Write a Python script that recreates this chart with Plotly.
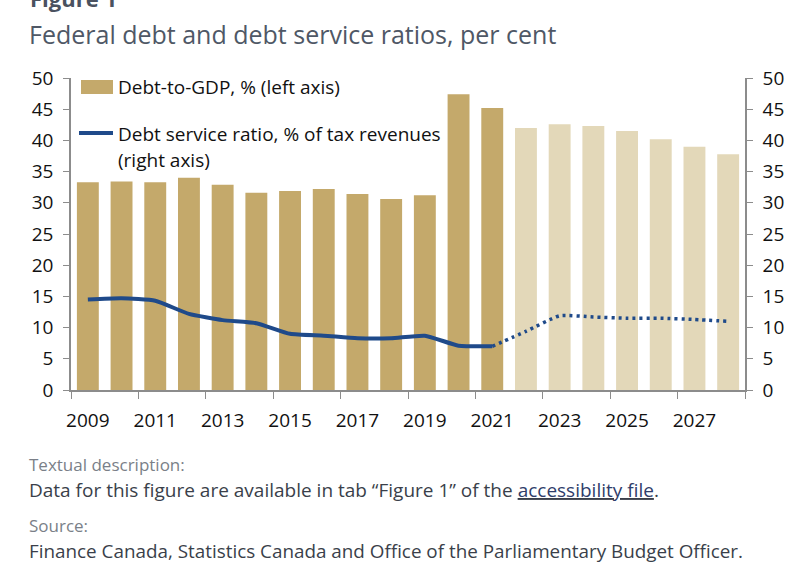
import plotly.graph_objects as go

years = list(range(2009, 2029))
debt_to_gdp = [33.3, 33.4, 33.3, 34.0, 32.9, 31.6, 31.9, 32.2, 31.4, 30.6, 31.2,
               47.4, 45.2, 42.0, 42.6, 42.3, 41.5, 40.2, 39.0, 37.8]
projected = [False] * 13 + [True] * 7

actual_years = list(range(2009, 2022))
debt_service_actual = [14.5, 14.7, 14.3, 12.2, 11.2, 10.7, 9.0, 8.7, 8.3, 8.3, 8.7, 7.1, 7.0]
proj_years = list(range(2021, 2029))
debt_service_proj = [7.0, 9.4, 11.9, 11.7, 11.5, 11.5, 11.3, 11.0]

tick_years = years[::2]
tick_labels = [str(y) for y in tick_years]

DARK = "#C4A96B"
LIGHT = "#E3D8B9"
NAVY = "#1F4A8A"
AXIS = "#8C8C8C"
FONT = "Open Sans"

W, H = 812, 569
L, R, T, B = 71, 67, 78, 179
pw, ph = W - L - R, H - T - B


def px(x):
    return (x - L) / pw


def py(y):
    return (H - B - y) / ph


fig = go.Figure()
fig.add_trace(go.Bar(
    x=years, y=debt_to_gdp, width=0.65,
    marker=dict(color=[LIGHT if p else DARK for p in projected], line=dict(width=0)),
    showlegend=False, yaxis="y",
))
fig.add_trace(go.Scatter(
    x=actual_years, y=debt_service_actual, mode="lines",
    line=dict(color=NAVY, width=4, shape="spline", smoothing=0.5),
    showlegend=False, yaxis="y2",
))
fig.add_trace(go.Scatter(
    x=proj_years, y=debt_service_proj, mode="lines",
    line=dict(color=NAVY, width=3.5, dash="3px,4px", shape="spline", smoothing=0.5),
    showlegend=False, yaxis="y2",
))

boundaries = [y - 0.5 for y in tick_years] + [years[-1] + 0.5]

axis_common = dict(
    range=[0, 50], dtick=5, ticks="outside", ticklen=6, tickcolor=AXIS,
    showline=True, linecolor=AXIS, linewidth=1.5, showgrid=False, zeroline=False,
    tickfont=dict(family=FONT, size=19, color="#111111"), ticklabelstandoff=6,
)

fig.update_layout(
    width=W, height=H,
    margin=dict(l=L, r=R, t=T, b=B),
    paper_bgcolor="white", plot_bgcolor="white",
    bargap=0.35,
    xaxis=dict(
        range=[years[0] - 0.5, years[-1] + 0.5],
        tickvals=tick_years, ticktext=tick_labels, ticks="",
        showline=True, linecolor=AXIS, linewidth=1.5, showgrid=False, zeroline=False,
        tickfont=dict(family=FONT, size=19, color="#111111"), ticklabelstandoff=12,
        minor=dict(tickmode="array", tickvals=boundaries, ticks="outside",
                   ticklen=7, tickcolor=AXIS, showgrid=False),
    ),
    yaxis=dict(**axis_common, side="left"),
    yaxis2=dict(**axis_common, side="right", overlaying="y", anchor="x"),
)

shapes = [
    dict(type="rect", xref="paper", yref="paper", x0=px(81), x1=px(113), y0=py(94), y1=py(80),
         fillcolor=DARK, line=dict(width=0)),
    dict(type="line", xref="paper", yref="paper", x0=px(79), x1=px(113), y0=py(133), y1=py(133),
         line=dict(color=NAVY, width=4)),
]
fig.update_layout(shapes=shapes)

def ann(text, x, y, size, color, xanchor="left", yanchor="middle", bold=False):
    fig.add_annotation(
        text=text, xref="paper", yref="paper", x=px(x), y=py(y),
        xanchor=xanchor, yanchor=yanchor, showarrow=False,
        font=dict(family=FONT, size=size, color=color, weight="bold" if bold else "normal"),
    )

ann("Figure 1", 28, -2, 22, "#4a5260", bold=True)
ann("Federal debt and debt service ratios, per cent", 27, 34, 25, "#4f5866")
ann("Debt-to-GDP, % (left axis)", 116, 87, 19, "#111111")
ann("Debt service ratio, % of tax revenues", 116, 134, 19, "#111111")
ann("(right axis)", 116, 160, 19, "#111111")
ann("Textual description:", 27, 464, 17, "#7a7f88")
ann("Data for this figure are available in tab \u201cFigure 1\u201d of the <u><span style='color:#2f3d6b'>accessibility file</span></u>.",
    27, 490, 19, "#3a3f4a")
ann("Source:", 27, 525, 17, "#7a7f88")
ann("Finance Canada, Statistics Canada and Office of the Parliamentary Budget Officer.", 27, 551, 18.85, "#3a3f4a")

fig.write_html("out.html", config={"displayModeBar": False},
               post_script="document.body.style.margin='0';document.body.style.overflow='hidden';")
